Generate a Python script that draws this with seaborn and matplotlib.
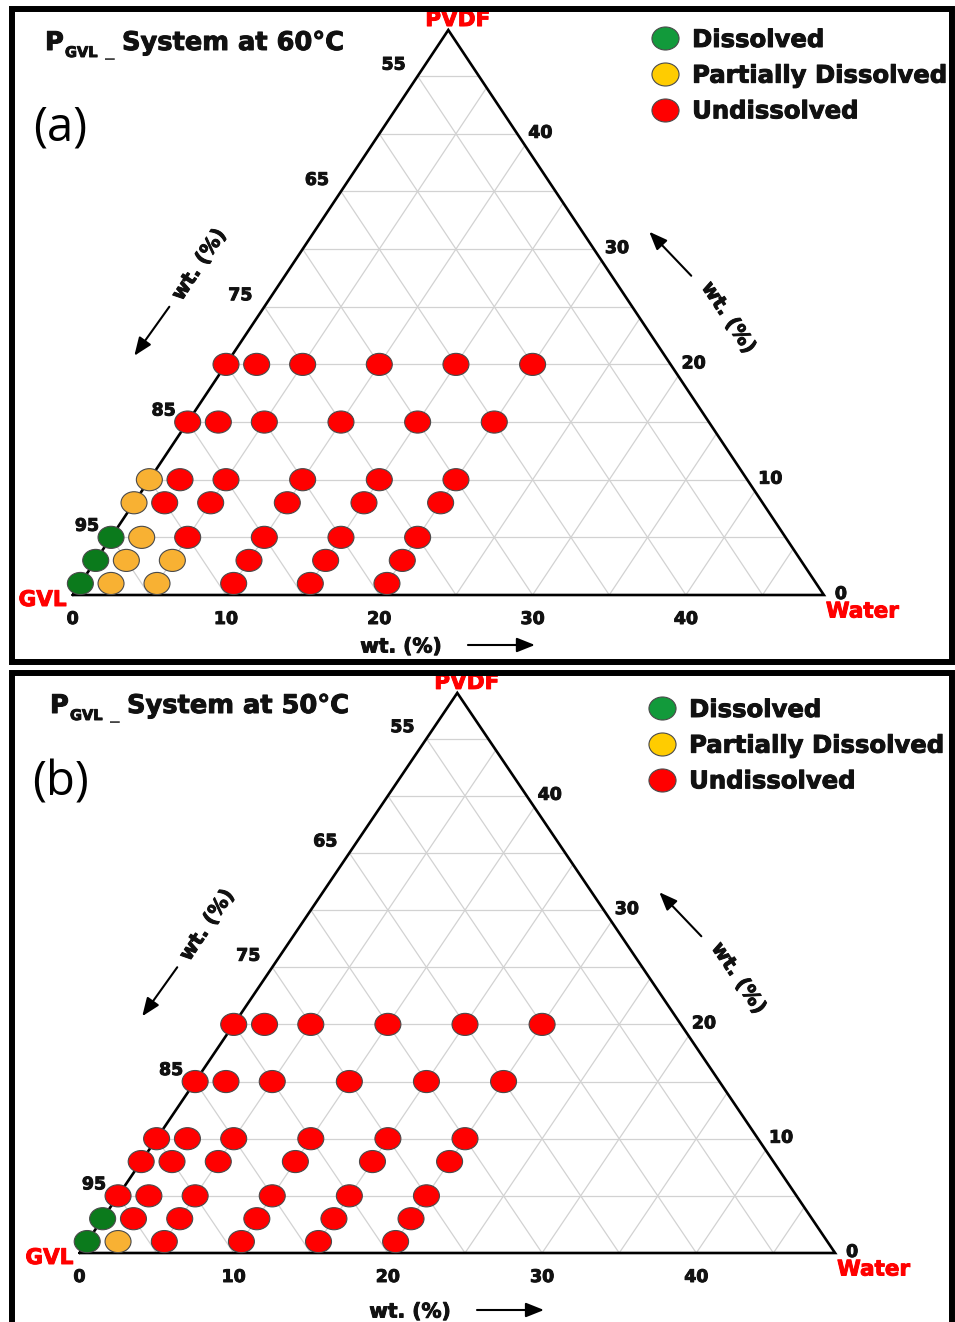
import numpy as np
import pandas as pd
import matplotlib
matplotlib.use("Agg")
import matplotlib.pyplot as plt
import matplotlib.patheffects as pe
import seaborn as sns
from matplotlib.path import Path
from matplotlib.lines import Line2D
from matplotlib.patches import Rectangle
from matplotlib.transforms import Affine2D, offset_copy

# ---------------- data ----------------
PVDF_LEVELS = [1, 3, 5, 8, 10, 15, 20]     # wt.% PVDF (rows)
WATER_LEVELS = [0, 2, 5, 10, 15, 20]       # wt.% water (columns)
# D = Dissolved, P = Partially Dissolved, U = Undissolved ; one row per PVDF level
STATUS_60C = [
    ["D", "P", "P", "U", "U", "U"],  # PVDF 1
    ["D", "P", "P", "U", "U", "U"],  # PVDF 3
    ["D", "P", "U", "U", "U", "U"],  # PVDF 5
    ["P", "U", "U", "U", "U", "U"],  # PVDF 8
    ["P", "U", "U", "U", "U", "U"],  # PVDF 10
    ["U", "U", "U", "U", "U", "U"],  # PVDF 15
    ["U", "U", "U", "U", "U", "U"],  # PVDF 20
]
STATUS_50C = [
    ["D", "P", "U", "U", "U", "U"],  # PVDF 1
    ["D", "U", "U", "U", "U", "U"],  # PVDF 3
    ["U", "U", "U", "U", "U", "U"],  # PVDF 5
    ["U", "U", "U", "U", "U", "U"],  # PVDF 8
    ["U", "U", "U", "U", "U", "U"],  # PVDF 10
    ["U", "U", "U", "U", "U", "U"],  # PVDF 15
    ["U", "U", "U", "U", "U", "U"],  # PVDF 20
]
STATUS_CODES = ["D", "P", "U"]
STATUS_NAMES = ["Dissolved", "Partially Dissolved", "Undissolved"]
TEMPERATURES = ["60°C", "50°C"]
PANEL_LETTERS = ["(a)", "(b)"]
GVL_TICKS = [95, 85, 75, 65, 55]
PVDF_TICKS = [0, 10, 20, 30, 40]
WATER_TICKS = [0, 10, 20, 30, 40]
AXIS_MAX = 49
GRID_STEP = 5

# ---------------- style ----------------
POINT_COLORS = {"D": "#0b7a1c", "P": "#f8b133", "U": "#ff0000"}
LEGEND_COLORS = {"D": "#129a3b", "P": "#ffcc00", "U": "#ff0000"}
EDGE = "#4a4a4a"
GRID_COLOR = "#d2d2d2"
RED = "#ff0000"
INK = "#111111"

sns.set_style("white")
plt.rcParams["font.family"] = ["DejaVu Sans"]
plt.rcParams["text.color"] = INK

HEAVY = [pe.withStroke(linewidth=0.7, foreground=INK)]
HEAVY_RED = [pe.withStroke(linewidth=0.7, foreground=RED)]

W, H = 955, 1322
fig = plt.figure(figsize=(W / 100, H / 100), dpi=100)

ELLIPSE = Path.unit_circle().transformed(Affine2D().scale(1.0, 0.85))


def tern(water, pvdf):
    water = np.asarray(water, dtype=float)
    pvdf = np.asarray(pvdf, dtype=float)
    return water + pvdf / 2.0, pvdf


def tpt(water, pvdf):
    x, y = tern(water, pvdf)
    return float(x), float(y)


def ftext(x, y, s, **kw):
    fig.text(x / W, 1 - y / H, s, transform=fig.transFigure, **kw)


PANELS = [
    dict(top=0, bottom=668, ox=72.7, oy=595.0, sx=15.33, sy=11.53,
         frame=(12, 9, 952, 662), title_xy=(45, 50), letter_xy=(60, 128),
         legend_xy=(652, 28), bottom_title_dy=-52),
    dict(top=668, bottom=1322, ox=79.5, oy=1253.0, sx=15.42, sy=11.43,
         frame=(12, 673, 952, 1345), title_xy=(50, 713), letter_xy=(60, 783),
         legend_xy=(649, 698), bottom_title_dy=-59),
]

STATUS_TABLES = [STATUS_60C, STATUS_50C]

for i, pnl in enumerate(PANELS):
    ax = fig.add_axes([0, 1 - pnl["bottom"] / H, 1, (pnl["bottom"] - pnl["top"]) / H])
    ax.set_xlim(-pnl["ox"] / pnl["sx"], (W - pnl["ox"]) / pnl["sx"])
    ax.set_ylim((pnl["oy"] - pnl["bottom"]) / pnl["sy"], (pnl["oy"] - pnl["top"]) / pnl["sy"])
    ax.axis("off")

    # ---- triangular grid ----
    for v in range(GRID_STEP, AXIS_MAX, GRID_STEP):
        for ws, ps in (([0, AXIS_MAX - v], [v, v]),      # constant PVDF
                       ([v, v], [0, AXIS_MAX - v]),      # constant water
                       ([v, 0], [0, v])):                # constant GVL
            gx, gy = tern(ws, ps)
            ax.plot(gx, gy, color=GRID_COLOR, lw=0.9, zorder=1, solid_capstyle="butt")
    ox_, oy_ = tern([0, AXIS_MAX, 0, 0], [0, 0, AXIS_MAX, 0])
    ax.plot(ox_, oy_, color="black", lw=1.9, zorder=2, solid_joinstyle="miter")

    # ---- data points ----
    rows = []
    for p, row in zip(PVDF_LEVELS, STATUS_TABLES[i]):
        for w, st in zip(WATER_LEVELS, row):
            x, y = tpt(w, p)
            rows.append(dict(water=w, pvdf=p, x=x, y=y, status=st))
    df = pd.DataFrame(rows)
    sns.scatterplot(data=df, x="x", y="y", hue="status", hue_order=STATUS_CODES,
                    palette=POINT_COLORS, marker=ELLIPSE, s=350, edgecolor=EDGE,
                    linewidth=0.8, legend=False, ax=ax, zorder=3)

    # ---- tick labels ----
    tick_kw = dict(textcoords="offset pixels", fontsize=12.5, fontweight="bold",
                   color=INK, va="center", path_effects=HEAVY)
    for g in GVL_TICKS:
        ax.annotate(str(g), xy=tpt(0, 100 - g), xytext=(-24, 11.5), ha="center", **tick_kw)
    for p in PVDF_TICKS:
        ax.annotate(str(p), xy=tpt(AXIS_MAX - p, p), xytext=(11, 1), ha="left", **tick_kw)
    for w in WATER_TICKS:
        ax.annotate(str(w), xy=tpt(w, 0), xytext=(0, -24), ha="center", **tick_kw)

    # ---- corner labels ----
    corner_kw = dict(textcoords="offset pixels", fontsize=15.5, fontweight="bold", color=RED,
                     path_effects=HEAVY_RED)
    ax.annotate("GVL", xy=tpt(0, 0), xytext=(-6, -5), ha="right", va="center", **corner_kw)
    ax.annotate("Water", xy=tpt(AXIS_MAX, 0), xytext=(2, -16.5), ha="left", va="center", **corner_kw)
    ax.annotate("PVDF", xy=tpt(0, AXIS_MAX), xytext=(9.5, 10), ha="center", va="center", **corner_kw)

    # ---- axis titles with arrows ----
    def disp_angle(a, b):
        (x0, y0), (x1, y1) = ax.transData.transform([a, b])
        return np.degrees(np.arctan2(y1 - y0, x1 - x0))

    left_ang = disp_angle(tpt(0, 0), tpt(0, AXIS_MAX))
    right_ang = disp_angle(tpt(0, AXIS_MAX), tpt(AXIS_MAX, 0))
    title_kw = dict(textcoords="offset pixels", fontsize=14.5, fontweight="bold",
                    color=INK, ha="center", va="center", rotation_mode="anchor",
                    path_effects=HEAVY)
    mid = AXIS_MAX // 2 + 1  # 25
    ax.annotate("wt. (%)", xy=tpt(0, mid), xytext=(-65, 42), rotation=left_ang, **title_kw)
    ax.annotate("wt. (%)", xy=tpt(AXIS_MAX - mid, mid), xytext=(96, -11), rotation=right_ang, **title_kw)
    ax.annotate("wt. (%)", xy=tpt(mid, 0), xytext=(-55, pnl["bottom_title_dy"]), rotation=0, **title_kw)

    def arrow(base, tail, head):
        t_tail = offset_copy(ax.transData, fig=fig, x=tail[0], y=tail[1], units="dots")
        t_head = offset_copy(ax.transData, fig=fig, x=head[0], y=head[1], units="dots")
        ax.annotate("", xy=base, xycoords=t_head, xytext=base, textcoords=t_tail,
                    arrowprops=dict(arrowstyle="-|>,head_length=0.55,head_width=0.22",
                                    color="black", lw=1.5, mutation_scale=20,
                                    shrinkA=0, shrinkB=0))

    arrow(tpt(0, mid), (-95, 0), (-130, -49))
    arrow(tpt(AXIS_MAX - mid, mid), (59, 31), (17, 75))
    bdy = pnl["bottom_title_dy"] + 2
    arrow(tpt(mid, 0), (12, bdy), (79, bdy))

    # ---- legend ----
    handles = [Line2D([], [], ls="", marker=ELLIPSE, markersize=19.5,
                      markerfacecolor=LEGEND_COLORS[c], markeredgecolor=EDGE,
                      markeredgewidth=0.8) for c in STATUS_CODES]
    lx, ly = pnl["legend_xy"]
    leg = ax.legend(handles, STATUS_NAMES, loc="upper left",
                    bbox_to_anchor=(lx / W, 1 - ly / H), bbox_transform=fig.transFigure,
                    frameon=False, borderpad=0, borderaxespad=0, handlelength=1.1,
                    handletextpad=0.55, labelspacing=0.48,
                    prop=dict(weight="bold", size=17.5))
    for t in leg.get_texts():
        t.set_color(INK)
        t.set_path_effects(HEAVY)

    # ---- title ----
    tx, ty = pnl["title_xy"]
    ftext(tx, ty, "P", fontsize=18.5, fontweight="bold", ha="left", va="baseline",
          path_effects=HEAVY)
    ftext(tx + 20, ty + 7, "GVL", fontsize=10.5, fontweight="bold", ha="left", va="baseline",
          path_effects=HEAVY)
    ftext(tx + 60, ty + 5, "_", fontsize=14, fontweight="bold", ha="left", va="baseline",
          color="#444444")
    ftext(tx + 77, ty, "System at " + TEMPERATURES[i], fontsize=18.5, fontweight="bold",
          ha="left", va="baseline", path_effects=HEAVY)

    # ---- panel letter ----
    lx2, ly2 = pnl["letter_xy"]
    ftext(lx2, ly2, PANEL_LETTERS[i], fontsize=34, family="Open Sans",
          ha="center", va="center", color="black")

    # ---- frame ----
    x0, y0, x1, y1 = pnl["frame"]
    fig.patches.append(Rectangle((x0 / W, 1 - y1 / H), (x1 - x0) / W, (y1 - y0) / H,
                                 transform=fig.transFigure, fill=False,
                                 edgecolor="black", lw=4.3, zorder=5))

fig.savefig("out.png", dpi=100)
